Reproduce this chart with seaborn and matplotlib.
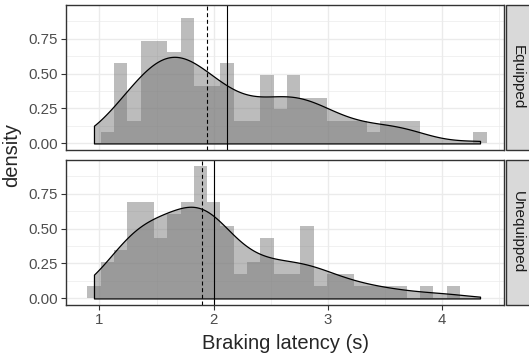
import numpy as np
import pandas as pd
import matplotlib
matplotlib.use("Agg")
import matplotlib.pyplot as plt
import seaborn as sns
from matplotlib.patches import Rectangle

# bins shared by both facets (30 bins over the pooled data range)
data_min, data_max = 0.952, 4.332
n_bins = 30
bin_width = (data_max - data_min) / (n_bins - 1)
bin_edges = data_min - bin_width / 2 + bin_width * np.arange(n_bins + 1)
bin_centers = (bin_edges[:-1] + bin_edges[1:]) / 2

# counts per bin
counts_equipped = [0, 1, 7, 2, 9, 9, 8, 11, 5, 5, 7, 2, 2, 6, 3,
                   6, 4, 4, 2, 2, 2, 1, 2, 2, 2, 0, 0, 0, 0, 1]
counts_unequipped = [1, 3, 4, 8, 8, 5, 7, 8, 11, 8, 6, 2, 3, 5, 2,
                     2, 6, 1, 2, 2, 1, 1, 1, 1, 0, 1, 0, 1, 0, 0]

groups = ["Equipped", "Unequipped"]
medians = [1.944, 1.900]   # dashed lines
means = [2.119, 2.003]     # solid lines

sns.set_theme(style="white")
plt.rcParams["font.family"] = ["Liberation Sans", "DejaVu Sans"]

fig, axes = plt.subplots(2, 1, figsize=(5.29, 3.56), dpi=100, sharex=True)
fig.subplots_adjust(left=66 / 529, right=504 / 529, top=1 - 5 / 356,
                    bottom=1 - 305 / 356, hspace=0.069)

all_counts = [counts_equipped, counts_unequipped]
for ax, grp, cnt, med, mn in zip(axes, groups, all_counts, medians, means):
    ax.set_axisbelow(True)
    df = pd.DataFrame({"latency": bin_centers, "n": cnt})
    sns.histplot(data=df, x="latency", weights="n", bins=list(bin_edges),
                 stat="density", color="#7a7a7a", alpha=0.5, linewidth=0,
                 ax=ax)
    samples = pd.DataFrame({"latency": np.repeat(bin_centers, cnt)})
    sns.kdeplot(data=samples, x="latency", fill=True, color="#7a7a7a",
                alpha=0.5, edgecolor="black", linewidth=0.9, bw_adjust=0.85,
                cut=5, clip=(data_min, data_max), ax=ax)
    ax.axvline(med, color="black", linestyle=(0, (3.6, 2.4)), linewidth=0.8)
    ax.axvline(mn, color="black", linewidth=0.8)

    ax.set_xlim(0.707, 4.542)
    ax.set_ylim(-0.047, 0.99)
    ax.set_yticks([0, 0.25, 0.5, 0.75])
    ax.set_yticklabels(["0.00", "0.25", "0.50", "0.75"])
    ax.set_xticks([1, 2, 3, 4])
    ax.set_yticks([0.125, 0.375, 0.625, 0.875], minor=True)
    ax.set_xticks([1.5, 2.5, 3.5, 4.5], minor=True)
    ax.grid(True, which="major", color="#ebebeb", linewidth=1.0)
    ax.grid(True, which="minor", color="#ebebeb", linewidth=0.5)
    ax.set_ylabel("")
    ax.set_xlabel("")
    for s in ax.spines.values():
        s.set_color("#333333")
        s.set_linewidth(1.0)
    ax.tick_params(axis="both", which="major", length=3.3, width=0.8,
                   color="#333333", labelcolor="#4d4d4d", labelsize=10.8,
                   pad=2.5, left=True, bottom=True)
    ax.tick_params(axis="both", which="minor", length=0)

    # facet strip on the right
    strip = Rectangle((1.004, 0), 24 / 438, 1, transform=ax.transAxes,
                      facecolor="#d9d9d9", edgecolor="#333333", linewidth=1.0,
                      clip_on=False)
    ax.add_patch(strip)
    ax.text(1.004 + 12 / 438, 0.5, grp, transform=ax.transAxes, rotation=-90,
            ha="center", va="center", fontsize=11, color="#1a1a1a")

axes[0].tick_params(axis="x", bottom=False, labelbottom=False)
fig.text(11.5 / 529, 1 - 155 / 356, "density", rotation=90, ha="center",
         va="center", fontsize=14.5)
fig.text((66 + 504) / 2 / 529, 1 - 349 / 356, "Braking latency (s)",
         ha="center", va="baseline", fontsize=14.5)

fig.savefig("out.png", dpi=100)
